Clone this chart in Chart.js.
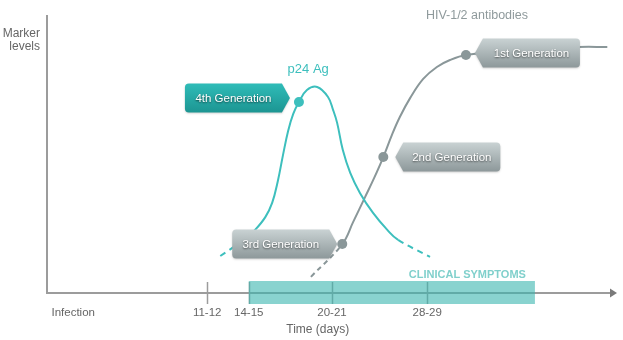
<!DOCTYPE html>
<html><head><meta charset="utf-8">
<script src="https://cdn.jsdelivr.net/npm/chart.js@4.4.1/dist/chart.umd.min.js"></script>
<style>html,body{margin:0;padding:0;background:#fff;overflow:hidden}</style>
</head><body>
<canvas id="c" width="623" height="340"></canvas>
<script>
// Schematic time axis (0–100 units) and marker level (0–100)
const tickPositions = [4.6, 28.1, 35.4, 50.0, 66.7];
const tickLabels = ['Infection', '11-12', '14-15', '20-21', '28-29'];
const tickHasMark = [false, true, true, true, true];
const axisTitle = 'Time (days)';
const axisTitlePos = 47.5;
const yAxisTitle = ['Marker', 'levels'];

const clinicalStart = 35.4;
const clinicalEnd = 85.6;
const clinicalLabel = 'CLINICAL SYMPTOMS';

const p24Name = 'p24 Ag';
const p24X = [30.4, 34.7, 36.5, 38.3, 39.5, 40.5, 41.4, 42.3, 43.2, 44.2, 45.6, 47.4, 49.3, 50.2, 50.9, 51.9, 53.2, 54.9, 57.2, 59.7, 61.6, 67.2];
const p24Y = [13.3, 19.4, 22.7, 27.3, 32.4, 40.3, 49.6, 58.3, 64.4, 68.7, 73.0, 74.1, 70.5, 65.8, 61.2, 51.4, 43.2, 36.0, 28.8, 22.7, 19.1, 13.0];
const p24Dots = [9];
const p24Dashed = [0, 20];

const abName = 'HIV-1/2 antibodies';
const abX = [46.3, 51.8, 53.7, 55.8, 57.4, 59.0, 60.5, 61.9, 63.7, 66.0, 68.4, 70.7, 73.5, 83.0, 93.2, 98.3];
const abY = [5.8, 17.6, 25.5, 34.5, 41.4, 48.9, 56.8, 63.3, 70.1, 77.0, 81.3, 83.8, 85.6, 87.8, 88.5, 88.5];
const abDots = [1, 5, 12];
const abDashed = [0];

// generation tags: label, series, point index
const genLabels = ['4th Generation', '3rd Generation', '2nd Generation', '1st Generation'];
const genSeries = [0, 1, 1, 1];
const genPoint = [9, 1, 5, 12];

const TEAL = '#3dbfbd';
const GRAY = '#8a9799';
const FONT = '"Liberation Sans", Arial, Helvetica, sans-serif';

const tagStyle = [
  {side: 'right', dx: -9, dy: -4, top: '#2fbcb8', bot: '#1c9592'},
  {side: 'right', dx: -5, dy: 0, top: '#c9d2d3', bot: '#8d989a'},
  {side: 'left', dx: 12, dy: 0, top: '#c9d2d3', bot: '#8d989a'},
  {side: 'left', dx: 9, dy: -2, top: '#c9d2d3', bot: '#8d989a'}
];

function drawTag(ctx, tipX, tipY, side, text, st) {
  const w = 97, h = 29, p = 8, r = 4;
  const top = tipY - h / 2, bot = tipY + h / 2;
  let left, right;
  if (side === 'right') { right = tipX - p; left = right - w; }
  else { left = tipX + p; right = left + w; }
  ctx.save();
  ctx.beginPath();
  if (side === 'right') {
    ctx.moveTo(left + r, top);
    ctx.lineTo(right, top);
    ctx.lineTo(tipX, tipY);
    ctx.lineTo(right, bot);
    ctx.lineTo(left + r, bot);
    ctx.arcTo(left, bot, left, bot - r, r);
    ctx.lineTo(left, top + r);
    ctx.arcTo(left, top, left + r, top, r);
  } else {
    ctx.moveTo(right - r, top);
    ctx.lineTo(left, top);
    ctx.lineTo(tipX, tipY);
    ctx.lineTo(left, bot);
    ctx.lineTo(right - r, bot);
    ctx.arcTo(right, bot, right, bot - r, r);
    ctx.lineTo(right, top + r);
    ctx.arcTo(right, top, right - r, top, r);
  }
  ctx.closePath();
  const g = ctx.createLinearGradient(0, top, 0, bot);
  g.addColorStop(0, st.top);
  g.addColorStop(1, st.bot);
  ctx.shadowColor = 'rgba(0,0,0,0.18)';
  ctx.shadowBlur = 2;
  ctx.shadowOffsetY = 1;
  ctx.fillStyle = g;
  ctx.fill();
  ctx.shadowColor = 'rgba(0,0,0,0.6)';
  ctx.shadowBlur = 2;
  ctx.shadowOffsetY = 1;
  ctx.fillStyle = '#ffffff';
  ctx.font = '11.5px ' + FONT;
  ctx.textAlign = 'center';
  ctx.textBaseline = 'middle';
  ctx.fillText(text, (left + right) / 2, tipY + 0.5);
  ctx.restore();
}

const decor = {
  id: 'decor',
  beforeDatasetsDraw(chart) {
    const {ctx, scales: {x, y}} = chart;
    const axisY = y.getPixelForValue(0);
    const x0 = x.getPixelForValue(0);
    ctx.save();
    // axes
    ctx.strokeStyle = '#9c9c9c';
    ctx.lineWidth = 2;
    ctx.beginPath();
    ctx.moveTo(x0, y.getPixelForValue(100));
    ctx.lineTo(x0, axisY + 1);
    ctx.moveTo(x0, axisY);
    ctx.lineTo(x.getPixelForValue(99), axisY);
    ctx.stroke();
    ctx.fillStyle = '#7a7a7a';
    const tip = x.getPixelForValue(100);
    ctx.beginPath();
    ctx.moveTo(tip, axisY);
    ctx.lineTo(tip - 7, axisY - 4.5);
    ctx.lineTo(tip - 7, axisY + 4.5);
    ctx.closePath();
    ctx.fill();
    // tick marks
    ctx.lineWidth = 1.5;
    ctx.strokeStyle = '#9c9c9c';
    tickPositions.forEach((v, i) => {
      if (!tickHasMark[i]) return;
      const px = Math.round(x.getPixelForValue(v)) + 0.5;
      ctx.beginPath();
      ctx.moveTo(px, axisY - 11);
      ctx.lineTo(px, axisY + 11);
      ctx.stroke();
    });
    // clinical symptoms band
    const bx0 = x.getPixelForValue(clinicalStart), bx1 = x.getPixelForValue(clinicalEnd);
    ctx.fillStyle = 'rgba(58,182,175,0.6)';
    ctx.fillRect(bx0, axisY - 12, bx1 - bx0, 23);
    ctx.font = 'bold 11px ' + FONT;
    ctx.fillStyle = '#80d0cc';
    ctx.textAlign = 'right';
    ctx.textBaseline = 'middle';
    ctx.fillText(clinicalLabel, bx1 - 9, axisY - 18);
    // tick labels
    ctx.font = '11.5px ' + FONT;
    ctx.fillStyle = '#666';
    ctx.textAlign = 'center';
    tickPositions.forEach((v, i) => {
      ctx.fillText(tickLabels[i], x.getPixelForValue(v), axisY + 20);
    });
    ctx.font = '12px ' + FONT;
    ctx.fillText(axisTitle, x.getPixelForValue(axisTitlePos), axisY + 37);
    // y title
    ctx.textAlign = 'right';
    ctx.fillStyle = '#666';
    ctx.fillText(yAxisTitle[0], x0 - 7, 34);
    ctx.fillText(yAxisTitle[1], x0 - 7, 47);
    // series names
    ctx.textAlign = 'center';
    ctx.font = '13px ' + FONT;
    ctx.fillStyle = TEAL;
    const pi = p24Y.indexOf(Math.max(...p24Y));
    ctx.fillText(p24Name, x.getPixelForValue(p24X[pi]) - 9, 69);
    ctx.font = '12.5px ' + FONT;
    ctx.fillStyle = '#8f9a9c';
    ctx.fillText(abName, x.getPixelForValue(abX[abDots[2]]) + 11, 16);
    ctx.restore();
  },
  afterDatasetsDraw(chart) {
    const {ctx} = chart;
    genLabels.forEach((t, i) => {
      const el = chart.getDatasetMeta(genSeries[i]).data[genPoint[i]];
      const st = tagStyle[i];
      drawTag(ctx, el.x + st.dx, el.y + st.dy, st.side, t, st);
    });
  }
};

function mk(xs, ys) { return xs.map((v, i) => ({x: v, y: ys[i]})); }

new Chart(document.getElementById('c'), {
  type: 'line',
  data: {
    datasets: [
      {
        label: p24Name, data: mk(p24X, p24Y), borderColor: TEAL, backgroundColor: TEAL,
        borderWidth: 2, tension: 0.4, fill: false,
        pointRadius: c => p24Dots.includes(c.dataIndex) ? 5 : 0, pointBorderWidth: 0,
        pointHoverRadius: 0,
        segment: {borderDash: c => p24Dashed.includes(c.p0DataIndex) ? [6, 5] : undefined}
      },
      {
        label: abName, data: mk(abX, abY), borderColor: GRAY, backgroundColor: GRAY,
        borderWidth: 2, tension: 0.4, fill: false,
        pointRadius: c => abDots.includes(c.dataIndex) ? 5 : 0, pointBorderWidth: 0,
        pointHoverRadius: 0,
        segment: {borderDash: c => abDashed.includes(c.p0DataIndex) ? [5, 4] : undefined}
      }
    ]
  },
  options: {
    responsive: false, animation: false, devicePixelRatio: 1,
    layout: {padding: {left: 47, right: 6, top: 15, bottom: 47}},
    scales: {
      x: {type: 'linear', min: 0, max: 100, display: false},
      y: {min: 0, max: 100, display: false}
    },
    plugins: {legend: {display: false}, tooltip: {enabled: false}},
    events: []
  },
  plugins: [decor]
});
</script>
</body></html>
